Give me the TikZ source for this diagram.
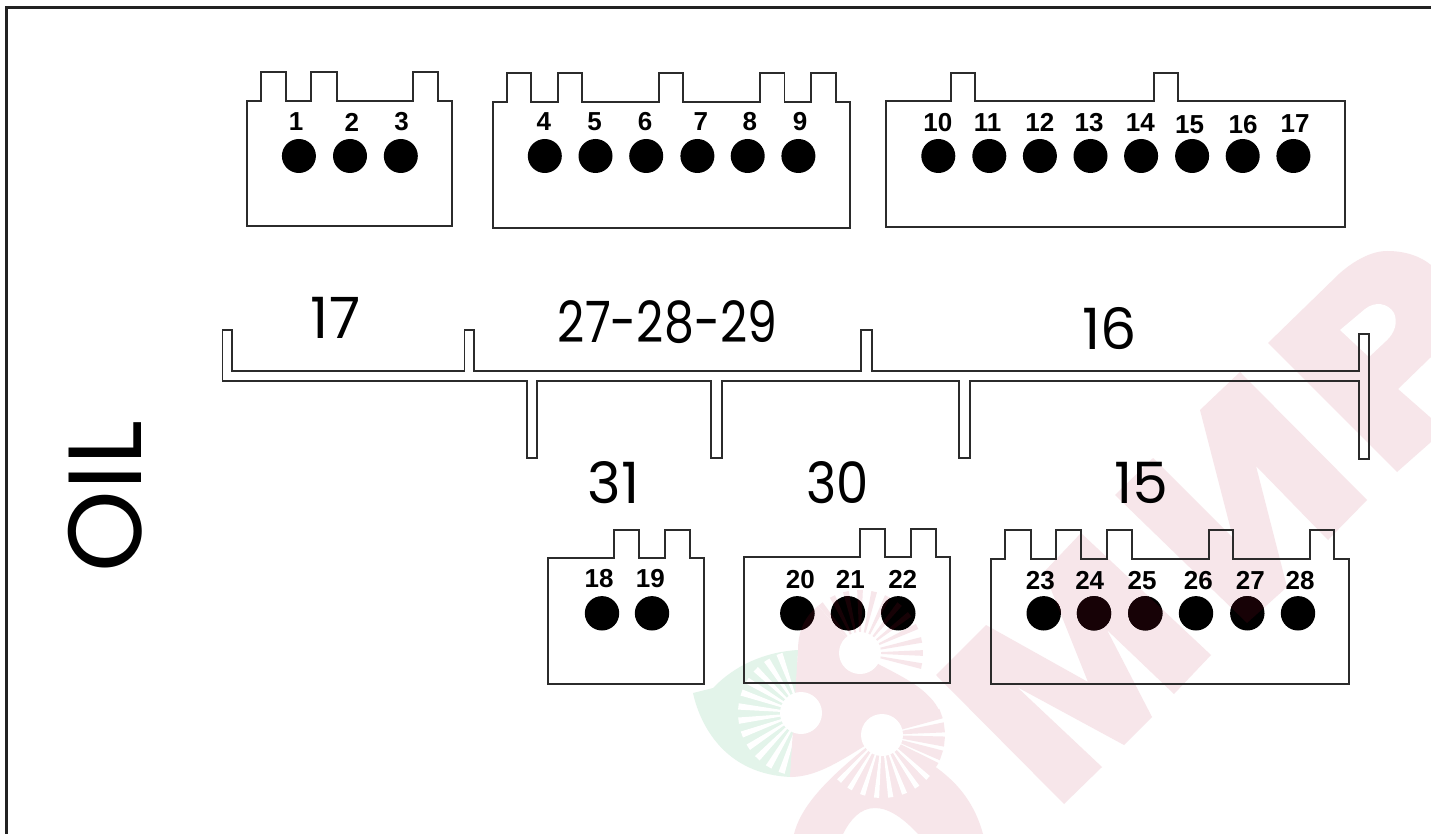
\documentclass[tikz,border=0pt]{standalone}
\usepackage{fontspec}
\setmainfont{Liberation Sans}
\newfontfamily\gothic{Poppins}
\definecolor{wmpink}{HTML}{F7E6EA}
\definecolor{wmgreen}{HTML}{E3F4EA}
\definecolor{wmhole}{HTML}{FFFFFF}
\definecolor{ink}{HTML}{2B2B2B}
\definecolor{frame}{HTML}{222222}
\tikzset{
  outline/.style={draw=ink,line width=1.9pt,line join=miter,fill=none},
  pinhole/.style={fill=black},
  pinnum/.style={inner sep=0pt,font=\fontsize{26}{26}\selectfont\bfseries,text=black},
  bignum/.style={inner sep=0pt,font=\fontsize{57}{57}\selectfont\gothic,text=black},
  oiltext/.style={inner sep=0pt,rotate=90,font=\fontsize{104}{104}\selectfont\gothic,text=black},
}
\newcommand{\wray}[7]{% colour, cx, cy, angle, half-angle, r1, r2
  \fill[#1,shift={(#2,#3)}] (#4-#5:#6pt) -- (#4-#5:#7pt) -- (#4+#5:#7pt) -- (#4+#5:#6pt) -- cycle;}
\newcommand{\wmark}{%
  % green part of the S
  \fill[wmgreen] (798,650) .. controls (765,652) and (735,665) .. (713,688) -- (693,693)
     .. controls (700,725) and (725,775) .. (792,777) -- cycle;
  \foreach \a in {110,123,136,149,161,174,187,200,213,226,239,252}
    {\wray{wmhole}{801}{713}{\a}{2.9}{20}{63}}
  % pink upper body of the S
  \fill[wmpink] (798,650) .. controls (798,630) and (806,615) .. (818,606) -- (860,653) -- (880,665)
     .. controls (905,678) and (930,690) .. (940,712) -- (882,735) -- (863,747)
     .. controls (837,763) and (815,777) .. (790,777) -- cycle;
  % pink lower body of the S
  \fill[wmpink] (794,834) .. controls (800,810) and (820,785) .. (863,750) -- (882,735) -- (937,768)
     .. controls (960,785) and (975,805) .. (983,834) -- (918,834)
     .. controls (905,820) and (890,808) .. (875,808)
     .. controls (860,808) and (850,820) .. (843,834) -- cycle;
  % rays of the S
  \foreach \a in {-12,0,12,25,38,51,64,77,90,103,116,129}
    {\wray{wmpink}{860}{653}{\a}{2.6}{20}{63}}
  \foreach \a in {20,7,-6,-19,-31}
    {\wray{wmpink}{882}{735}{\a}{4.6}{20}{63}}
  \foreach \a in {-43,-56,-69,-82,-95,-108,-121,-133}
    {\wray{wmhole}{882}{735}{\a}{2.4}{20}{63}}
  \fill[wmhole] (860,653) circle[radius=21pt];
  \fill[wmhole] (882,735) circle[radius=21pt];
  \fill[wmhole] (801,713) circle[radius=21pt];
  % first M
  \fill[wmpink] (1081,533) -- (1211,655) -- (1174,694) -- (1107,630) -- (1152,717) -- (1124,745)
     -- (1017,687) -- (1102,767) -- (1064,804) -- (936,675) -- (986,625) -- (1088,682) -- (1044,572) -- cycle;
  % second M
  \fill[wmpink] (1240,372) -- (1367,500) -- (1328,540) -- (1256,466) -- (1287,587) -- (1247,623)
     -- (1115,495) -- (1153,458) -- (1233,538) -- (1200,410) -- cycle;
  % P
  \fill[wmpink] (1268,343) -- (1340,273) .. controls (1355,260) and (1372,251) .. (1387,251)
     .. controls (1405,251) and (1420,256) .. (1431,265) -- (1431,357) -- (1398,389) -- (1431,418)
     -- (1431,442) -- (1397,472) -- cycle;
  \fill[wmhole] (1340,330) -- (1365,309) .. controls (1375,301) and (1388,303) .. (1394,313)
     .. controls (1398,322) and (1395,333) .. (1386,341) -- (1369,357) -- cycle;
}
\newcommand{\connector}[6]{% left,right,shoulder,bottom,tabtop,tabs
  \draw[outline] (#1,#4) -- (#1,#3)
    \foreach \a/\b in {#6} { -- (\a,#3) -- (\a,#5) -- (\b,#5) -- (\b,#3) }
    -- (#2,#3) -- (#2,#4) -- cycle;}
\begin{document}
\begin{tikzpicture}[x=1pt,y=-1pt]
\useasboundingbox (0,0) rectangle (1431,834);
\fill[white] (0,0) rectangle (1431,834);
\wmark
% frame
\draw[frame,line width=2.7pt] (6.7,834) -- (6.7,7.3) -- (1431,7.3);
% connectors
\connector{246.8}{452}{100.7}{226}{72}{260.7/286.3,311.4/336.6,413.4/438}
\connector{492.7}{849.6}{102}{227.7}{73}{506.6/531.3,557.8/582,658.8/682.7,759.8/784.5,811/835.7}
\connector{885.9}{1344.7}{101.3}{227.3}{73}{950.7/975.4,1153.9/1178.3}
\connector{548.3}{703.7}{558}{684}{530}{614/639,665/689.7}
\connector{744.3}{950.3}{557.3}{683}{529}{860.3/885.3,911.3/936.3}
\connector{991}{1349}{558.7}{684}{529.7}{1005.3/1031,1056.3/1081.3,1106.7/1132.3,1208.7/1233.3,1310.3/1334.3}
% pin holes
\foreach \x in {298.9,350,400.8,544.8,595.5,646.2,697.4,747.7,798.4,938.3,989.3,1039.9,1090.5,1141.1,1192.1,1242.7,1293.4}
  {\fill[pinhole] (\x,156) circle[radius=17pt];}
\foreach \x in {602,652,797.3,848,898.3,1043.7,1094,1145.3,1196,1247.3,1298}
  {\fill[pinhole] (\x,613.3) circle[radius=17.2pt];}
% the watermark tints the black holes it crosses
\begin{scope}
  \clip (797.3,613.3) circle[radius=17.2pt] (848,613.3) circle[radius=17.2pt] (898.3,613.3) circle[radius=17.2pt]
        (1043.7,613.3) circle[radius=17.2pt] (1094,613.3) circle[radius=17.2pt] (1145.3,613.3) circle[radius=17.2pt]
        (1247.3,613.3) circle[radius=17.2pt];
  \definecolor{wmpink}{HTML}{170206}
  \definecolor{wmgreen}{HTML}{000000}
  \definecolor{wmhole}{HTML}{000000}
  \wmark
\end{scope}
% pin numbers
\foreach \t/\x/\y in {1/296/122,2/351.8/122,3/401.6/122,4/543.9/122,5/594.6/122,6/645/122,7/700.9/122,8/749.9/122,9/800.2/122,
  10/937.9/122.7,11/987.5/122.7,12/1039.9/122.7,13/1089/122.7,14/1140.4/122.7,15/1189.6/125,16/1243/124.7,17/1295/124,
  18/599/579,19/650.3/579,20/800.3/579.7,21/850.3/579.7,22/902.7/579.7,
  23/1040.3/580.3,24/1089.7/580.3,25/1142/580.3,26/1198.3/580.3,27/1250.3/580.3,28/1300/580.3}
  {\node[pinnum] (pin\t) at (\x,\y) {\t};}
% manifold
\draw[outline] (222.5,330) -- (232.4,330) -- (232.4,370.7) -- (464.5,370.7) -- (464.5,330) -- (474,330)
  -- (474,370.7) -- (861.3,370.7) -- (861.3,330) -- (871.8,330) -- (871.8,370.7) -- (1359.4,370.7)
  -- (1359.4,334.3) -- (1369,334.3) -- (1369,458.7) -- (1359.4,458.7) -- (1359.4,380.7) -- (970,380.7)
  -- (970,458) -- (959,458) -- (959,380.7) -- (721.6,380.7) -- (721.6,458) -- (711.3,458) -- (711.3,380.7)
  -- (537.3,380.7) -- (537.3,458) -- (526.6,458) -- (526.6,380.7) -- (222.5,380.7) -- cycle;
% large numbers
\node[bignum] (a17) at (335.5,317.5) {17};
\node[bignum] (a27) at (667.5,322) {\scalebox{.83}[1]{27-28-29}};
\node[bignum] (a16) at (1109.5,329) {16};
\node[bignum] (a31) at (613.5,483) {31};
\node[bignum] (a30) at (837.5,483) {\scalebox{.9}[1]{30}};
\node[bignum] (a15) at (1141.5,482.5) {15};
\node[oiltext] (oil) at (105.5,496.5) {OIL};
\end{tikzpicture}
\end{document}
